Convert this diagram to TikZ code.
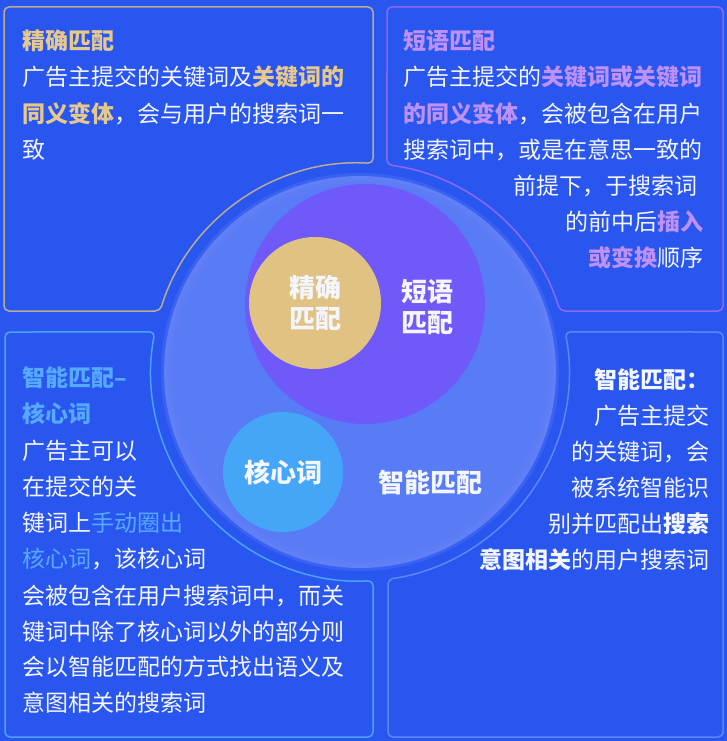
\documentclass[tikz,border=0pt]{standalone}
\usepackage{fontspec}
\setmainfont{Noto Sans CJK SC}
\usetikzlibrary{calc}
\definecolor{bgc}{HTML}{2A56F0}
\definecolor{bigc}{HTML}{587BF6}
\definecolor{purc}{HTML}{7059F9}
\definecolor{goldc}{HTML}{E0C382}
\definecolor{ltbc}{HTML}{45A6F8}
\definecolor{tlline}{HTML}{B8AC94}
\definecolor{trline}{HTML}{8A6AF5}
\definecolor{blline}{HTML}{4BA2F7}
\definecolor{brline}{HTML}{5E86F8}
\definecolor{goldt}{HTML}{E6C88C}
\definecolor{lavt}{HTML}{BF90F6}
\definecolor{lbt}{HTML}{55AAFF}
\definecolor{wt}{HTML}{F3F5FF}
\definecolor{rimc}{HTML}{8C95F8}
\newcommand\gdt[1]{{\bfseries\color{goldt}#1}}
\newcommand\lvt[1]{{\bfseries\color{lavt}#1}}
\newcommand\lbx[1]{{\color{lbt}#1}}
\newcommand\bft[1]{{\bfseries #1}}
\tikzset{
  txt/.style={inner sep=0pt, outer sep=0pt, font=\fontsize{23}{36}\selectfont, text=wt},
  ctxt/.style={inner sep=0pt, font=\bfseries\fontsize{26}{31}\selectfont, text=wt, align=center},
  boxline/.style={line width=1.5pt, rounded corners=5pt},
}
\begin{document}
\begin{tikzpicture}[x=1pt,y=1pt]
\useasboundingbox (0,0) rectangle (727,-741);
\fill[bgc] (0,0) rectangle (727,-741);
\coordinate (C) at (360,-372);
% boxes
\draw[boxline, tlline] (4,-7) -- (373,-7) -- ($(C)+(86.43:209)$) arc[start angle=86.43, end angle=163.03, radius=209] -- (4,-311) -- cycle;
\draw[boxline, trline] (723,-7) -- (387,-7) -- ($(C)+(82.58:209)$) arc[start angle=82.58, end angle=16.97, radius=209] -- (723,-311) -- cycle;
\draw[boxline, blline] (5,-737) -- (5,-332) -- ($(C)+(168.96:209)$) arc[start angle=168.96, end angle=273.57, radius=209] -- (373,-737) -- cycle;
\draw[boxline, brline] (723,-737) -- (723,-332) -- ($(C)+(11.04:209)$) arc[start angle=11.04, end angle=-82.3, radius=209] -- (388,-737) -- cycle;
% circles
\draw[bigc, opacity=0.35, line width=3pt] (C) circle (197.5);
\node[circle, fill=bigc, minimum size=392pt, inner sep=0pt] (big) at (C) {};
\foreach \r/\o in {194.5/0.18, 191.5/0.12, 188.5/0.07, 185.5/0.03}
  \draw[rimc, opacity=\o, line width=3pt] (C) circle (\r);
\node[circle, fill=purc, minimum size=240pt, inner sep=0pt] (pur) at (365,-304) {};
\node[circle, fill=goldc, minimum size=132pt, inner sep=0pt, ctxt] (gold) at (315,-303) {精确\\匹配};
\node[circle, fill=ltbc, minimum size=120pt, inner sep=0pt, ctxt] (core) at (283,-472) {核心词};
\node[ctxt] (purlab) at (427,-307.5) {短语\\匹配};
\node[ctxt] (smartlab) at (430,-482) {智能匹配};
% top-left text
\node[txt, anchor=base west] (tl1) at (22.5,-50) {\gdt{精确匹配}};
\node[txt, anchor=base west] (tl2) at (22.5,-86) {广告主提交的关键词及\gdt{关键词的}};
\node[txt, anchor=base west] (tl3) at (22.5,-122) {\gdt{同义变体}，会与用户的搜索词一};
\node[txt, anchor=base west] (tl4) at (22.5,-158) {致};
% top-right text
\node[txt, anchor=base west] (tr1) at (403,-50) {\lvt{短语匹配}};
\node[txt, anchor=base west] (tr2) at (403,-86) {广告主提交的\lvt{关键词或关键词}};
\node[txt, anchor=base west] (tr3) at (403,-122) {\lvt{的同义变体}，会被包含在用户};
\node[txt, anchor=base west] (tr4) at (403,-158) {搜索词中，或是在意思一致的};
\node[txt, anchor=base west] (tr5) at (513,-194.5) {前提下，于搜索词};
\node[txt, anchor=base east] (tr6) at (703.5,-230.5) {的前中后\lvt{插入}};
\node[txt, anchor=base east] (tr7) at (703.5,-266) {\lvt{或变换}顺序};
% bottom-left text
\node[txt, anchor=base west] (bl1) at (22.5,-386.5) {\lbx{\bfseries 智能匹配–}};
\node[txt, anchor=base west] (bl2) at (22.5,-422.5) {\lbx{\bfseries 核心词}};
\node[txt, anchor=base west] (bl3) at (22.5,-459) {广告主可以};
\node[txt, anchor=base west] (bl4) at (22.5,-495) {在提交的关};
\node[txt, anchor=base west] (bl5) at (22.5,-531) {键词上\lbx{手动圈出}};
\node[txt, anchor=base west] (bl6) at (22.5,-567) {\lbx{核心词}，该核心词};
\node[txt, anchor=base west] (bl7) at (22.5,-604) {会被包含在用户搜索词中，而关};
\node[txt, anchor=base west] (bl8) at (22.5,-640) {键词中除了核心词以外的部分则};
\node[txt, anchor=base west] (bl9) at (22.5,-675.5) {会以智能匹配的方式找出语义及};
\node[txt, anchor=base west] (bl10) at (22.5,-711.5) {意图相关的搜索词};
% bottom-right text
\node[txt, anchor=base east] (br1) at (709,-388.5) {\bft{智能匹配：}};
\node[txt, anchor=base east] (br2) at (709,-424) {广告主提交};
\node[txt, anchor=base east] (br3) at (709,-460.5) {的关键词，会};
\node[txt, anchor=base east] (br4) at (709,-496) {被系统智能识};
\node[txt, anchor=base east] (br5) at (709,-532) {别并匹配出\bft{搜索}};
\node[txt, anchor=base east] (br6) at (709,-568) {\bft{意图相关}的用户搜索词};
\end{tikzpicture}
\end{document}
